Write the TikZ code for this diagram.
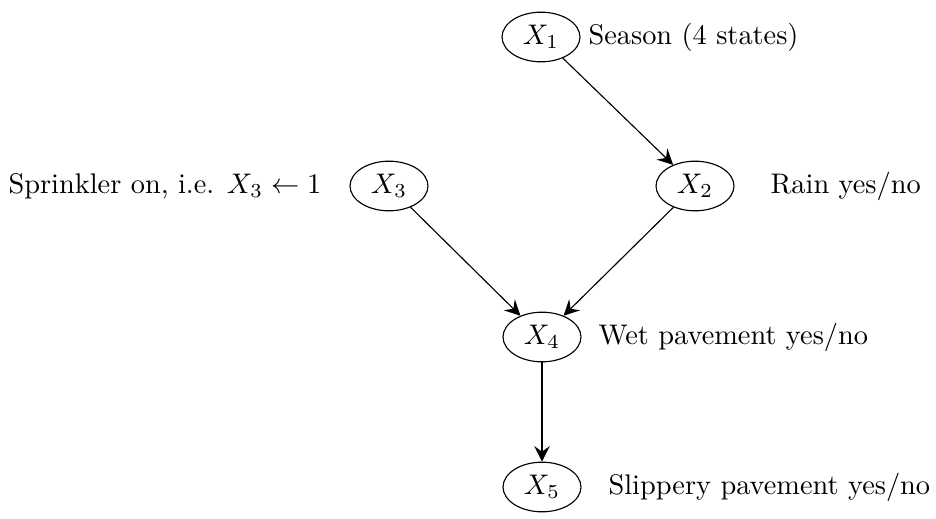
\documentclass[tikz,border=0pt]{standalone}
\usetikzlibrary{arrows.meta,shapes.geometric}
\begin{document}
\begin{tikzpicture}[x=0.3527pt,y=-0.3527pt,
 var/.style={draw,ellipse,minimum width=27.5pt,minimum height=17.5pt,inner sep=0pt},
 lab/.style={anchor=west,inner sep=0pt,text height=1.6ex,text depth=0.45ex},
 edge/.style={-{Stealth[length=5.5pt,width=5.5pt,inset=2pt]}}]
\useasboundingbox (0,0) rectangle (936,519);
\node[var] (x1) at (541,37) {$X_1$};
\node[var] (x2) at (695,186) {$X_2$};
\node[var] (x3) at (389,186) {$X_3$};
\node[var] (x4) at (542,337) {$X_4$};
\node[var] (x5) at (542,487) {$X_5$};
\node[lab] (l1) at (588,37) {Season (4 states)};
\node[lab] (l2) at (770,186) {Rain yes/no};
\node[lab] (l3) at (8,186) {Sprinkler on, i.e. $X_3\leftarrow 1$};
\node[lab] (l4) at (598,337) {Wet pavement yes/no};
\node[lab] (l5) at (608,487) {Slippery pavement yes/no};
\draw[edge] (x1) -- (x2);
\draw[edge] (x3) -- (x4);
\draw[edge] (x2) -- (x4);
\draw[edge] (x4) -- (x5);
\end{tikzpicture}
\end{document}
